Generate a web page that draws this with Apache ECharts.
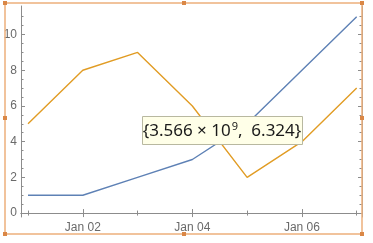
<!DOCTYPE html>
<html><head><meta charset="utf-8">
<script src="https://cdn.jsdelivr.net/npm/echarts@6/dist/echarts.min.js"></script>
<style>html,body{margin:0;padding:0;background:#fff}#c{width:373px;height:243px}</style>
</head><body><div id="c"></div>
<script>
const dayNumbers = [1, 2, 3, 4, 5, 6, 7];
const dayLabels = ['Jan 01', 'Jan 02', 'Jan 03', 'Jan 04', 'Jan 05', 'Jan 06', 'Jan 07'];
const seriesBlue = [1, 1, 2, 3, 5, 8, 11];
const seriesOrange = [5, 8, 9, 6, 2, 4, 7];
const xMajorTicks = [2, 4, 6];
const xMinorTicks = [1, 3, 5, 7];
const yMajorTicks = [0, 2, 4, 6, 8, 10];
const yMinorTicks = [0.5, 1, 1.5, 2.5, 3, 3.5, 4.5, 5, 5.5, 6.5, 7, 7.5, 8.5, 9, 9.5, 10.5, 11];
const tipMantissa = '3.566';
const tipExponent = '9';
const tipValue = '6.324';

const AX = '#8c8c8c', LB = '#6a6a6a';
const X_MIN = 0.872, X_MAX = 7.097, Y_MIN = -0.22, Y_MAX = 11.6;

function xAx(pos, ticks, len, showLine, showLabel) {
  return {
    type: 'value', position: pos, min: X_MIN, max: X_MAX,
    axisLine: { show: showLine, lineStyle: { color: AX, width: 1 } },
    axisTick: { show: true, inside: true, length: len, customValues: ticks, lineStyle: { color: AX } },
    axisLabel: showLabel ? {
      show: true, customValues: ticks, color: LB, fontSize: 12, margin: 5,
      fontFamily: 'Liberation Sans, Arial, sans-serif',
      formatter: v => dayLabels[dayNumbers.indexOf(Math.round(v))]
    } : { show: false },
    splitLine: { show: false }
  };
}
function yAx(pos, ticks, len, showLine, showLabel) {
  return {
    type: 'value', position: pos, min: Y_MIN, max: Y_MAX,
    axisLine: { show: showLine, lineStyle: { color: AX, width: 1 } },
    axisTick: { show: true, inside: true, length: len, customValues: ticks, lineStyle: { color: AX } },
    axisLabel: showLabel ? {
      show: true, customValues: ticks, color: LB, fontSize: 12, margin: 4,
      fontFamily: 'Liberation Sans, Arial, sans-serif'
    } : { show: false },
    splitLine: { show: false }
  };
}

const chart = echarts.init(document.getElementById('c'), null, { renderer: 'canvas' });
const hx = [5, 184, 362], hy = [3, 118, 234];
const handles = [];
hx.forEach(x => hy.forEach(y => {
  if (x === 184 && y === 118) return;
  handles.push({ type: 'rect', shape: { x: x - 2, y: y - 2, width: 4, height: 4 }, style: { fill: '#DA8746' }, z: 200 });
}));

chart.setOption({
  animation: false,
  grid: { left: 21, top: 6, right: 11, bottom: 26, containLabel: false },
  xAxis: [
    xAx('bottom', xMajorTicks, 4, true, true),
    xAx('bottom', xMinorTicks, 2.5, false, false),
    xAx('top', xMajorTicks, 4, true, false),
    xAx('top', xMinorTicks, 2.5, false, false)
  ],
  yAxis: [
    yAx('left', yMajorTicks, 4, true, true),
    yAx('left', yMinorTicks, 2.5, false, false),
    yAx('right', yMajorTicks, 4, true, false),
    yAx('right', yMinorTicks, 2.5, false, false)
  ],
  series: [
    { type: 'line', showSymbol: false, data: dayNumbers.map((d, i) => [d, seriesBlue[i]]),
      lineStyle: { color: '#5E81B5', width: 1.4 }, itemStyle: { color: '#5E81B5' } },
    { type: 'line', showSymbol: false, data: dayNumbers.map((d, i) => [d, seriesOrange[i]]),
      lineStyle: { color: '#E19C24', width: 1.4 }, itemStyle: { color: '#E19C24' } }
  ],
  graphic: [
    { type: 'rect', shape: { x: 142.5, y: 116.5, width: 160, height: 28 },
      style: { fill: '#FFFFE8', stroke: '#B8B8A0', lineWidth: 1 }, z: 100 },
    { type: 'text', x: 222, y: 131, z: 101,
      style: {
        text: '{' + tipMantissa + ' × 10{sup|' + tipExponent + '},  ' + tipValue + '}',
        fill: '#1a1a1a', font: '17px "Noto Sans", sans-serif', align: 'center', verticalAlign: 'middle',
        rich: { sup: { fontSize: 11, fill: '#1a1a1a', fontFamily: 'Noto Sans', padding: [0, 0, 9, 1] } }
      } },
    { type: 'rect', shape: { x: 5, y: 3, width: 357, height: 231 },
      style: { fill: 'none', stroke: '#EDB07C', lineWidth: 1.5 }, z: 150 },
    ...handles
  ]
});
</script></body></html>
